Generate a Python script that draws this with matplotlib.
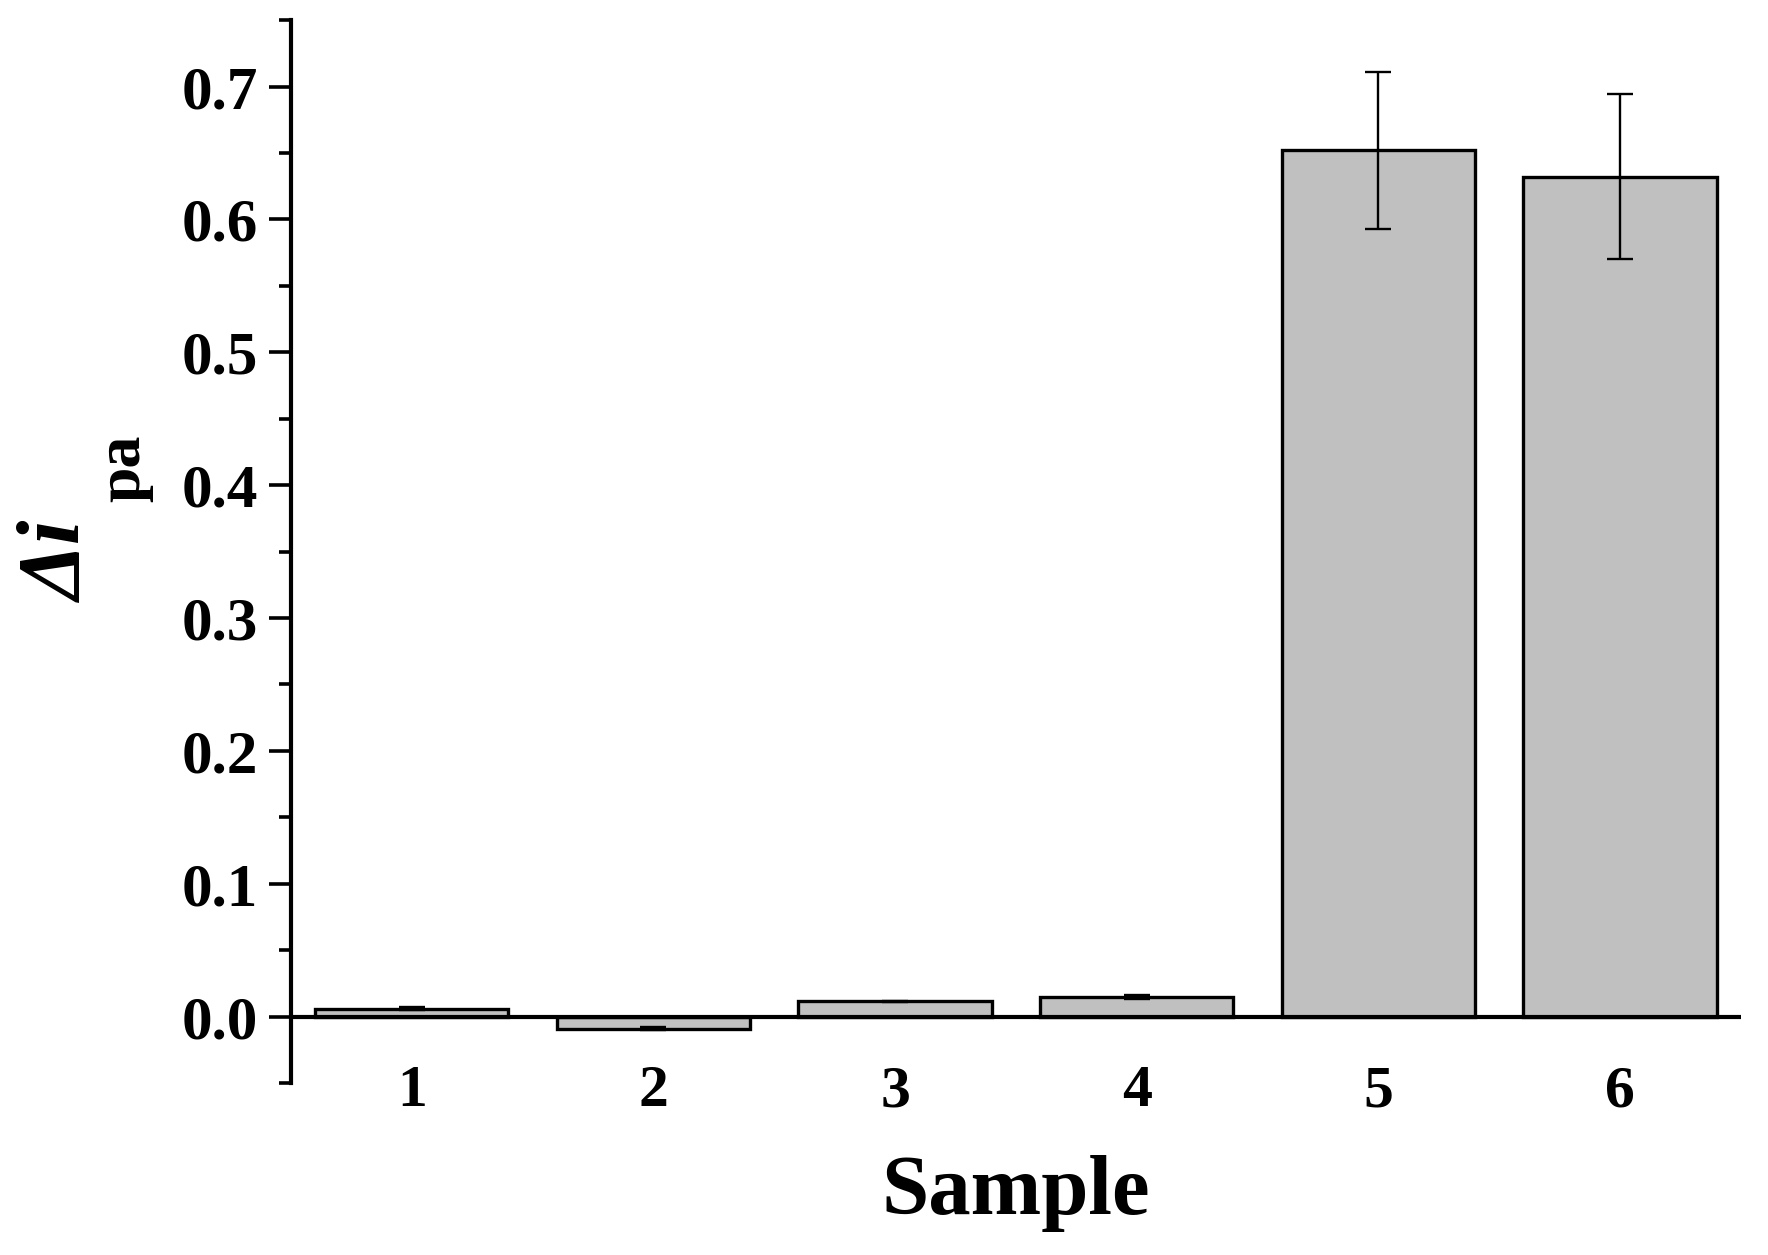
import matplotlib
matplotlib.use("Agg")
import matplotlib.pyplot as plt
from matplotlib.ticker import MultipleLocator

samples = [1, 2, 3, 4, 5, 6]
delta_ipa = [0.006, -0.009, 0.0115, 0.015, 0.652, 0.632]
errors = [0.001, 0.001, 0.0005, 0.0015, 0.059, 0.062]
y_ticks = [0.0, 0.1, 0.2, 0.3, 0.4, 0.5, 0.6, 0.7]

plt.rcParams["font.family"] = "Liberation Serif"
plt.rcParams["font.weight"] = "bold"

fig = plt.figure(figsize=(17.68, 12.55), dpi=100)
ax = fig.add_axes([0.1646, 0.137, 0.82, 0.847])

ax.bar(samples, delta_ipa, width=0.8, color="#c0c0c0", edgecolor="black",
       linewidth=2.4, zorder=2)
ax.errorbar(samples, delta_ipa, yerr=errors, fmt="none", ecolor="black",
            elinewidth=1.7, capsize=9.5, capthick=1.7, zorder=3)
ax.axhline(0, color="black", linewidth=3, zorder=4)

ax.set_xlim(0.5, 6.5)
ax.set_ylim(-0.05, 0.75)

for side in ["top", "right", "bottom"]:
    ax.spines[side].set_visible(False)
ax.spines["left"].set_linewidth(3)

ax.yaxis.set_minor_locator(MultipleLocator(0.05))
ax.set_yticks(y_ticks)
ax.set_yticklabels([f"{t:.1f}" for t in y_ticks])
ax.tick_params(axis="y", which="major", length=16, width=2.6, labelsize=44, pad=8)
ax.tick_params(axis="y", which="minor", length=9, width=2.6)

ax.set_xticks(samples)
ax.set_xticklabels([str(s) for s in samples])
ax.tick_params(axis="x", length=0, labelsize=43, pad=-13)

ax.set_xlabel("Sample", fontsize=61, fontweight="bold", labelpad=26)

# y label: italic bold "Δi" with an upright bold subscript "pa"
fig.text(0.0344, 0.552, "Δi", rotation=90, fontsize=64, fontstyle="italic",
         fontweight="bold", ha="center", va="center")
fig.text(0.0705, 0.627, "pa", rotation=90, fontsize=46, fontweight="bold",
         ha="center", va="center")

fig.savefig("out.png", dpi=100)
